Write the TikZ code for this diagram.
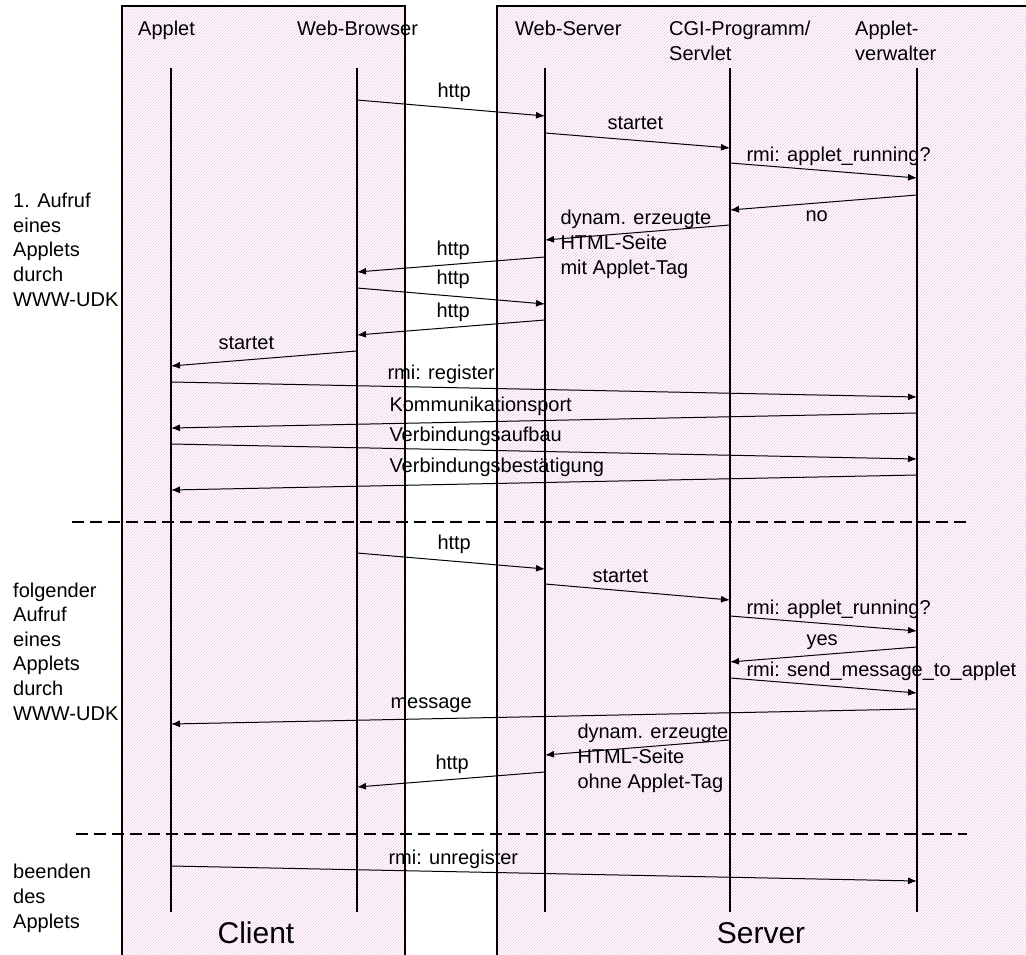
\documentclass[tikz,border=0pt]{standalone}
\usepackage{fontspec}
\setmainfont{Liberation Sans}
\usetikzlibrary{arrows.meta,patterns}
\definecolor{hatch}{RGB}{238,196,232}

\begin{document}
\begin{tikzpicture}[
    x=1pt, y=-1pt,
    box/.style={draw=black, line width=1.6pt, pattern=north east lines, pattern color=hatch},
    lifeline/.style={line width=1.2pt},
    msg/.style={line width=1pt, -{Latex[length=9pt,width=7pt]}},
    sep/.style={line width=1.2pt, dash pattern=on 12pt off 6pt},
    lbl/.style={anchor=base west, inner sep=0pt, align=left, font=\fontsize{20}{25}\selectfont},
    side/.style={lbl, font=\fontsize{20}{24.6}\selectfont},
    big/.style={inner sep=0pt, font=\fontsize{30}{36}\selectfont}
  ]
  \useasboundingbox (0,0) rectangle (1026,955);

  % Client and server
  \draw[box] (122,6) rectangle (405,970);
  \draw[box] (497,6) rectangle (1040,970);
  \node[big] (client) at (256,933) {Client};
  \node[big] (server) at (761,933) {Server};

  % Lifelines
  \coordinate (ap) at (171,68);
  \coordinate (br) at (357,68);
  \coordinate (ws) at (545,68);
  \coordinate (cgi) at (730,68);
  \coordinate (av) at (917,68);
  \foreach \l in {ap,br,ws,cgi,av}
    \draw[lifeline] (\l) -- (\l |- 0,912);

  % (base of a node with several lines = its last line)
  \node[lbl] (hap) at (138,36) {Applet};
  \node[lbl] (hbr) at (297,36) {Web-Browser};
  \node[lbl] (hws) at (515,36) {Web-Server};
  \node[lbl] (hcgi) at (669,61) {CGI-Programm/\\Servlet};
  \node[lbl] (hav) at (855,61) {Applet-\\verwalter};

  % Phases
  \node[side] (p1) at (13,306) {1. Aufruf\\eines\\Applets\\durch\\WWW-UDK};
  \node[side] (p2) at (13,720) {folgender\\Aufruf\\eines\\Applets\\durch\\WWW-UDK};
  \node[side] (p3) at (13,928) {beenden\\des\\Applets};
  \coordinate (d1a) at (72,522);  \coordinate (d1b) at (967,522);
  \coordinate (d2a) at (76,834);  \coordinate (d2b) at (967,834);
  \draw[sep] (d1a) -- (d1b);
  \draw[sep] (d2a) -- (d2b);

  % Messages, first call
  \draw[msg] (br |- 0,100) -- (ws |- 0,116) node[lbl] (m1) at (437,98) {http};
  \draw[msg] (ws |- 0,133) -- (cgi |- 0,148) node[lbl] (m2) at (607,130) {startet};
  \draw[msg] (cgi |- 0,163) -- (av |- 0,178) node[lbl] (m3) at (746,161) {rmi: applet\_running?};
  \draw[msg] (av |- 0,195) -- (cgi |- 0,210) node[lbl] (m4) at (805,222) {no};
  \draw[msg] (cgi |- 0,225) -- (ws |- 0,240) node[lbl] (m5) at (560,274) {dynam. erzeugte\\HTML-Seite\\mit Applet-Tag};
  \draw[msg] (ws |- 0,257) -- (br |- 0,272) node[lbl] (m6) at (436,255) {http};
  \draw[msg] (br |- 0,288) -- (ws |- 0,304) node[lbl] (m7) at (436,284) {http};
  \draw[msg] (ws |- 0,320) -- (br |- 0,335) node[lbl] (m8) at (436,317) {http};
  \draw[msg] (br |- 0,351) -- (ap |- 0,366) node[lbl] (m9) at (218,349) {startet};
  \draw[msg] (ap |- 0,382) -- (av |- 0,397) node[lbl] (m10) at (387,379) {rmi: register};
  \draw[msg] (av |- 0,413) -- (ap |- 0,428) node[lbl] (m11) at (389,411) {Kommunikationsport};
  \draw[msg] (ap |- 0,444) -- (av |- 0,459) node[lbl] (m12) at (389,441) {Verbindungsaufbau};
  \draw[msg] (av |- 0,475) -- (ap |- 0,490) node[lbl] (m13) at (389,472) {Verbindungsbestätigung};

  % Messages, following call
  \draw[msg] (br |- 0,553) -- (ws |- 0,569) node[lbl] (m14) at (437,549) {http};
  \draw[msg] (ws |- 0,584) -- (cgi |- 0,600) node[lbl] (m15) at (592,582) {startet};
  \draw[msg] (cgi |- 0,616) -- (av |- 0,631) node[lbl] (m16) at (746,614) {rmi: applet\_running?};
  \draw[msg] (av |- 0,647) -- (cgi |- 0,662) node[lbl] (m17) at (806,645) {yes};
  \draw[msg] (cgi |- 0,678) -- (av |- 0,693) node[lbl] (m18) at (746,676) {rmi: send\_message\_to\_applet};
  \draw[msg] (av |- 0,709) -- (ap |- 0,724) node[lbl] (m19) at (390,708) {message};
  \draw[msg] (cgi |- 0,740) -- (ws |- 0,755) node[lbl] (m20) at (577,788) {dynam. erzeugte\\HTML-Seite\\ohne Applet-Tag};
  \draw[msg] (ws |- 0,772) -- (br |- 0,787) node[lbl] (m21) at (435,769) {http};

  % Ending
  \draw[msg] (ap |- 0,866) -- (av |- 0,881) node[lbl] (m22) at (388,864) {rmi: unregister};
\end{tikzpicture}
\end{document}
